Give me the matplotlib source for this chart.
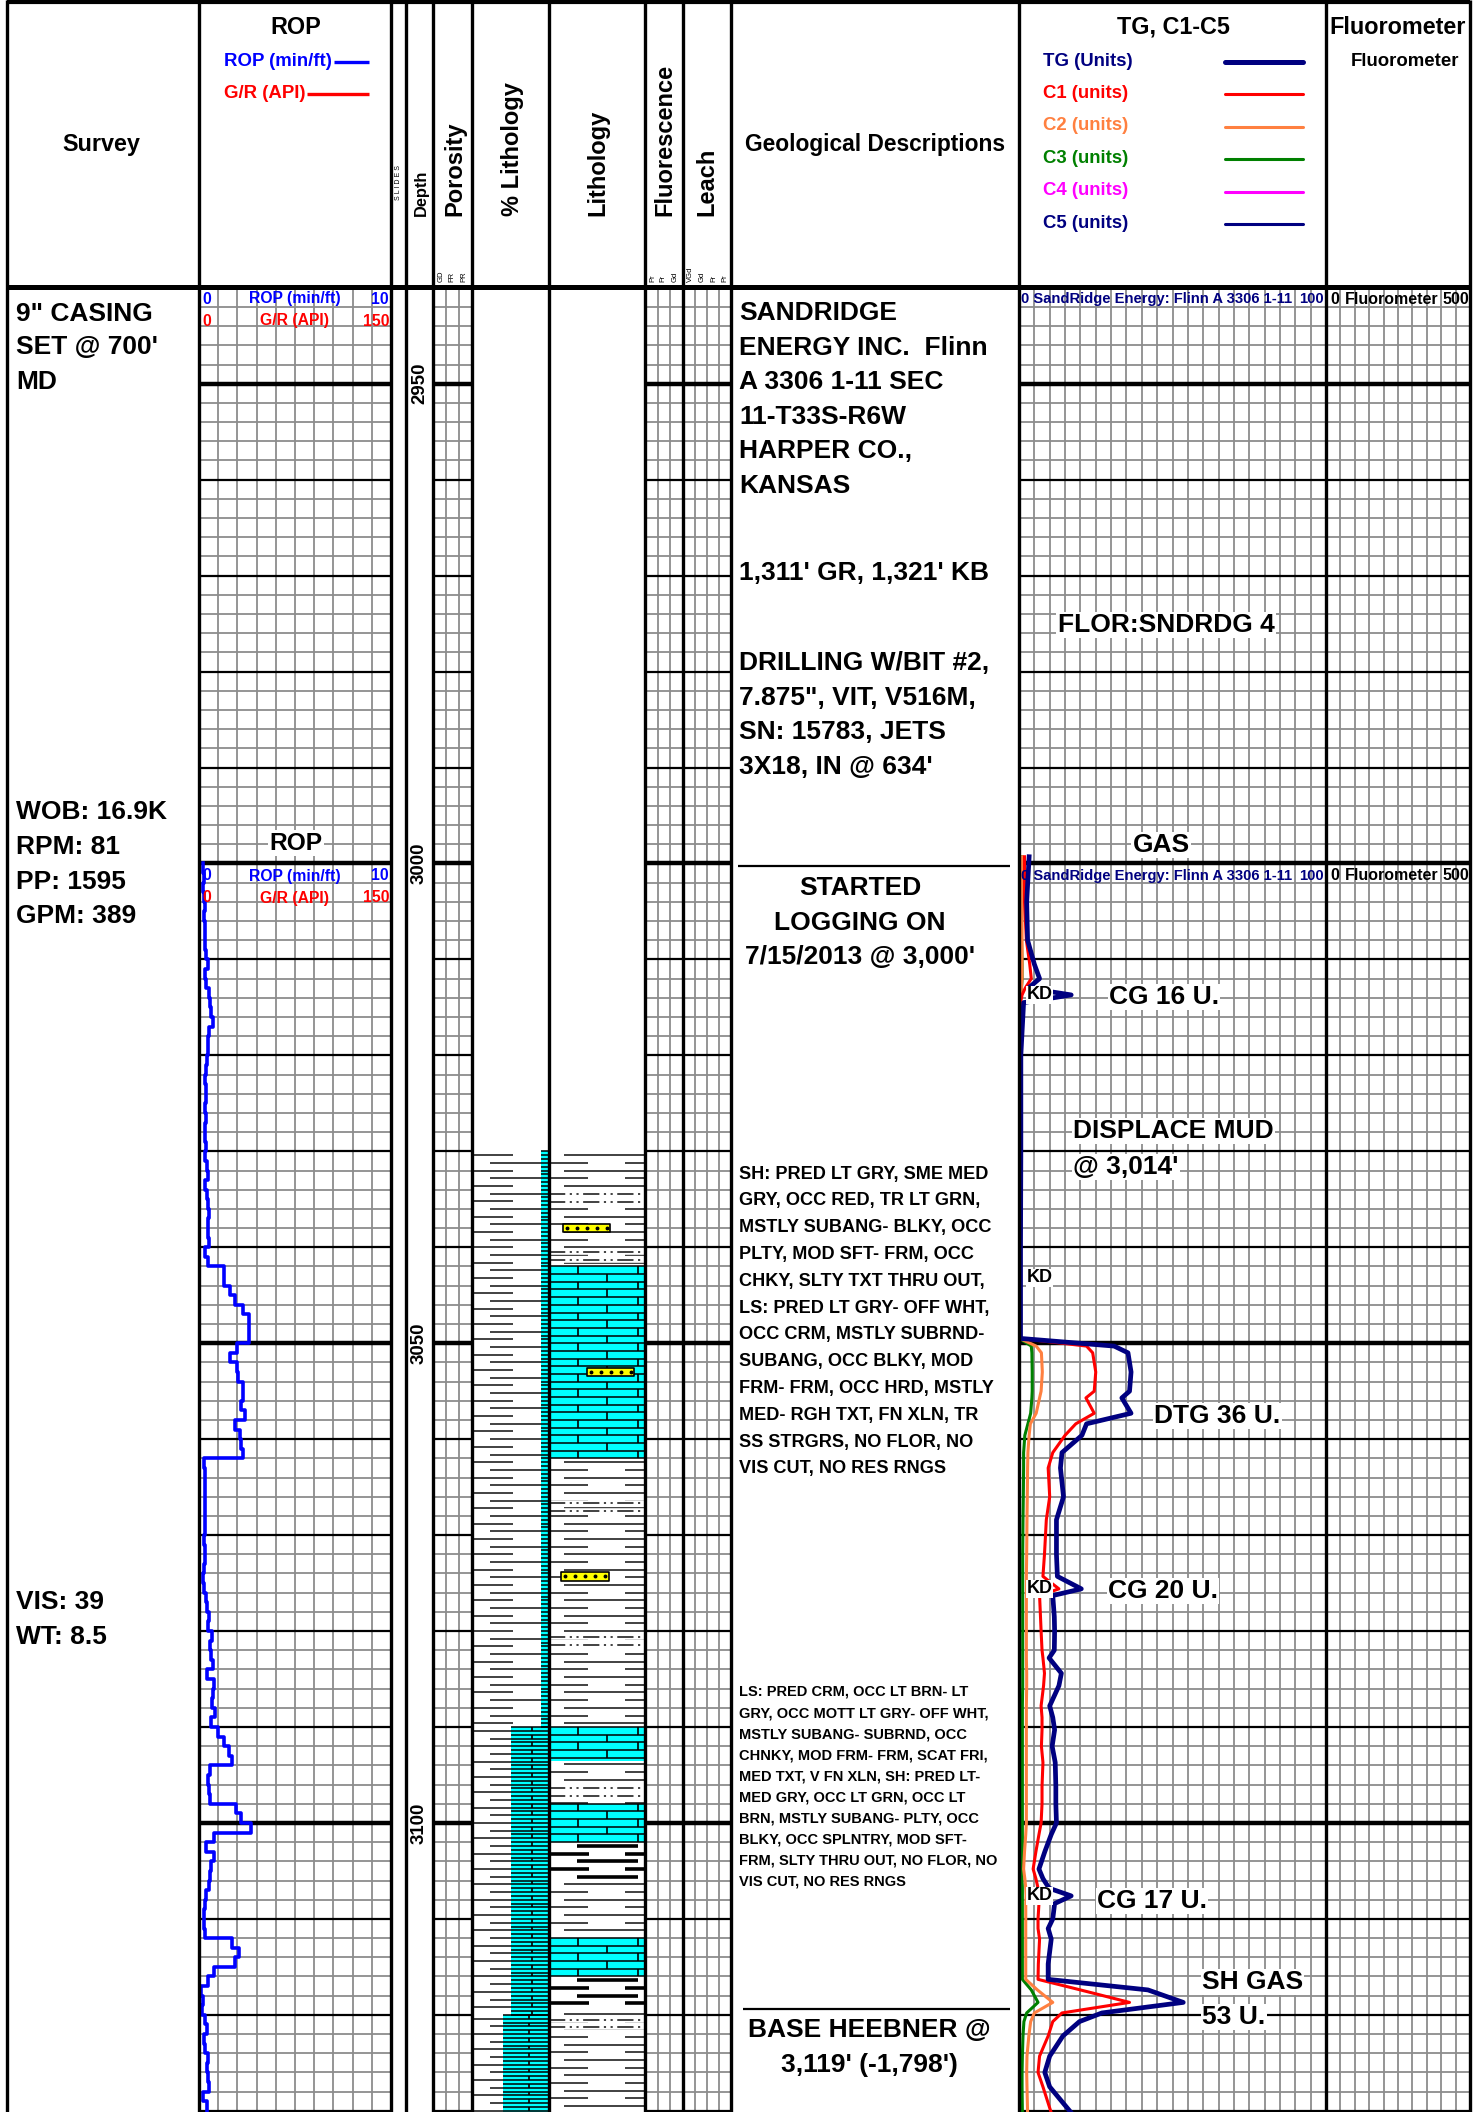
import numpy as np
import matplotlib.pyplot as plt
from matplotlib import font_manager as fm

plt.rcParams['font.family'] = ['Liberation Sans', 'DejaVu Sans']
REG = ['Liberation Sans', 'DejaVu Sans']
# the log uses Arial Narrow for captions; fall back to smaller Liberation Sans if no narrow face
if any(f.name == 'Liberation Sans Narrow' for f in fm.fontManager.ttflist):
    NARROW, NS = ['Liberation Sans Narrow', 'Liberation Sans', 'DejaVu Sans'], 1.0
else:
    NARROW, NS = ['Liberation Sans', 'DejaVu Sans'], 0.84

rop_start = 3000
rop_min_ft = [0.2, 0.25, 0.2, 0.25, 0.3, 0.25, 0.3, 0.3, 0.3, 0.35,
              0.45, 0.3, 0.35, 0.5, 0.55, 0.6, 0.75, 0.5, 0.45, 0.45,
              0.4, 0.35, 0.3, 0.35, 0.35, 0.3, 0.35, 0.3, 0.3, 0.35,
              0.3, 0.4, 0.45, 0.3, 0.4, 0.45, 0.5, 0.45, 0.45, 0.5,
              0.3, 0.45, 1.3, 1.3, 1.6, 1.9, 2.3, 2.6, 2.6, 2.6,
              2.0, 1.6, 2.0, 2.05, 2.3, 2.3, 2.2, 2.4, 1.9, 2.15,
              2.2, 2.3, 0.25, 0.3, 0.3, 0.3, 0.3, 0.3, 0.3, 0.3,
              0.25, 0.3, 0.3, 0.25, 0.2, 0.25, 0.35, 0.4, 0.5, 0.45,
              0.7, 0.55, 0.65, 0.75, 0.4, 0.8, 0.75, 0.7, 0.85, 0.65,
              1.0, 1.3, 1.55, 1.7, 0.55, 0.45, 0.5, 0.55, 1.95, 2.2,
              2.7, 0.8, 0.35, 0.8, 0.6, 0.55, 0.5, 0.35, 0.3, 0.25,
              0.25, 0.3, 1.7, 2.1, 1.9, 0.8, 0.45, 0.1, 0.2, 0.15,
              0.3, 0.4, 0.25, 0.3, 0.45, 0.4, 0.45, 0.5, 0.2, 0.4]

gas_depth = [2999.3, 3004, 3008, 3010.5, 3012, 3013, 3013.7, 3014.5, 3020, 3030,
             3040, 3049.5, 3050.3, 3051, 3053, 3055, 3055.7, 3057.3, 3058.4, 3059.6,
             3061.4, 3063, 3066, 3068.4, 3072, 3074.3, 3075.6, 3076.3, 3078.5, 3080,
             3082, 3082.8, 3084.4, 3085.7, 3087.8, 3089, 3090.3, 3092, 3093.7, 3096.2,
             3098, 3100, 3101.2, 3103, 3104.8, 3105.8, 3106.8, 3107.6, 3108.4, 3110,
             3111, 3112.1, 3113.4, 3114.7, 3116.3, 3117.4, 3118.7, 3119.8, 3120.7, 3122.2,
             3124.3, 3126, 3127.5, 3130.2]
tg_units = [3.3, 2.5, 2.8, 5, 6.7, 3, 17, 1.5, 0.6, 0.6,
            0.5, 0.5, 31, 35.5, 36.5, 36, 33.5, 36.5, 22, 20.5,
            14, 13.5, 14.5, 12.2, 12.2, 12.5, 20.3, 11, 11.5, 11.6,
            11.5, 9.8, 13.8, 13, 10, 11, 11.6, 10.8, 11.8, 12,
            12, 12.2, 10.5, 8.4, 6.5, 7.8, 9.8, 17, 11.6, 11,
            9.5, 10.5, 10, 9.5, 9.5, 42, 53.5, 27, 19.7, 14.3,
            10, 8.4, 10, 17]
c1_units = [1.8, 1.8, 2.4, 3.5, 4, 2, 1, 0.5, 0.3, 0.3,
            0.3, 0.3, 22, 24, 25, 24.5, 21.8, 24.5, 18.5, 15,
            11, 9.5, 10, 8.9, 8.3, 7.8, 13, 6.7, 7, 7.2,
            7.5, 7.8, 8.3, 8, 7.2, 7.5, 7.5, 7.3, 7.8, 7.5,
            7.5, 7.2, 6.5, 5.5, 4.6, 5.5, 6.2, 7.5, 6.5, 6.2,
            6.2, 6.7, 6.5, 6.3, 6.2, 20, 36, 14, 11, 9.5,
            6.7, 6.2, 7.8, 10.5]
c2_units = [1, 1, 1, 1, 1, 0.8, 0.5, 0.3, 0.2, 0.2,
            0.2, 0.2, 5.6, 7.3, 7.6, 7.2, 6.7, 5.6, 3.7, 3.3,
            2.9, 2.8, 2.7, 2.6, 2.5, 2.4, 2.4, 2.4, 2.4, 2.4,
            2.4, 2.4, 2.5, 2.5, 2.4, 2.4, 2.4, 2.4, 2.4, 2.4,
            2.4, 2.4, 2.2, 1.8, 1.5, 1.9, 2.2, 2.3, 2.2, 2.2,
            2.2, 2.2, 2.2, 2.2, 2.2, 6, 11, 5, 3.8, 3.2,
            2.6, 2.5, 2.6, 2.8]
c3_units = [0.8, 0.8, 0.8, 1, 1, 0.8, 0.3, 0.2, 0.1, 0.1,
            0.1, 0.1, 4, 4.2, 4.3, 4.3, 4.2, 3.8, 2.9, 1.9,
            1.5, 1.5, 1.4, 1.3, 1.2, 1.2, 1.2, 1.2, 1.2, 1.2,
            1.2, 1.2, 1.2, 1.2, 1.1, 1.1, 1.1, 1.1, 1.1, 1.1,
            1.1, 1.1, 1.1, 1.1, 1.0, 1.0, 1.1, 1.1, 1.1, 1.1,
            1.1, 1.1, 1.1, 1.1, 1.1, 4, 6.2, 2.5, 1.6, 1.3,
            1.1, 1.0, 1.0, 1.1]
kd_depth = [3013.7, 3043.2, 3075.6, 3107.6]

# % lithology: limestone share, rest shale
pct_top = [3030, 3090, 3120]
pct_ls = [10, 50, 60]

# interpreted lithology column
lith_top = [3030, 3042, 3062, 3090, 3093.5, 3098, 3102, 3106, 3112, 3116, 3119.5]
lith_kind = ['SH', 'LS', 'SH', 'LS', 'SH', 'LS', 'BSH', 'SH', 'LS', 'BSH', 'SH']
silt_depth = [3034.5, 3035.3, 3040.5, 3041.3, 3066.7, 3067.5, 3080.6, 3081.4,
              3096.4, 3097.2, 3120.5, 3121.3]
sand_depth = [3038.0, 3053.0, 3074.3]
sand_left = [15, 40, 13]
sand_right = [64, 89, 62]

depth_labels = [2950, 3000, 3050, 3100]

# ---------------- layout ----------------
W, H = 1473, 2112
HDR = 287
PXFT = 9.595
D0 = 2939.92
D1 = D0 + (H - HDR) / PXFT
edges = [7, 199, 391, 406, 433, 472, 549, 645, 683, 731, 1019, 1326, 1470]

fig = plt.figure(figsize=(W / 100, H / 100), dpi=100)


def track(i, xmax):
    x0, x1 = edges[i], edges[i + 1]
    ax = fig.add_axes([x0 / W, 0, (x1 - x0) / W, (H - HDR) / H])
    ax.set_xlim(0, xmax)
    ax.set_ylim(D1, D0)
    ax.axis('off')
    return ax


def grid(ax, ncols, xmax):
    ax.hlines(np.arange(2942, 3131, 2), 0, xmax, color='#8c8c8c', lw=1.3, zorder=1)
    ax.vlines(np.linspace(0, xmax, ncols + 1)[1:-1], D0, D1, color='#8c8c8c', lw=1.3, zorder=1)
    ten = np.arange(2950, 3131, 10)
    ax.hlines(ten[ten % 50 != 0], 0, xmax, color='black', lw=1.6, zorder=2)
    ax.hlines(ten[ten % 50 == 0], 0, xmax, color='black', lw=3.2, zorder=2)


# ROP
ax_rop = track(1, 10)
grid(ax_rop, 10, 10)
r = np.array(rop_min_ft)
d = rop_start + np.arange(len(r) + 1)
ax_rop.plot(np.repeat(r, 2), np.repeat(d, 2)[1:-1], color='#0000ff', lw=2.6, zorder=4)

# depth
ax_dep = track(3, 1)
for dl in depth_labels:
    ax_dep.text(0.5, dl, str(dl), rotation=90, ha='center', va='center', fontsize=16 * NS,
                fontweight='bold', family=NARROW)

ax_por = track(4, 3)
grid(ax_por, 3, 3)
ax_flu = track(7, 3)
grid(ax_flu, 3, 3)
ax_lea = track(8, 4)
grid(ax_lea, 4, 4)


def shale(ax, top, bot, rows_a, rows_b, lw=1.3, color='#333333', step=0.8):
    k = 0
    dd = top + step / 2
    while dd < bot:
        for a, b in (rows_a if k % 2 == 0 else rows_b):
            ax.plot([a, b], [dd, dd], color=color, lw=lw, solid_capstyle='butt', zorder=3)
        dd += step
        k += 1


def limestone(ax, top, bot, x0, x1, step, ticks_a, ticks_b):
    ax.fill_betweenx([top, bot], x0, x1, color='#00ffff', lw=0, zorder=2)
    ds = np.arange(top, bot + 1e-6, step)
    ax.hlines(ds, x0, x1, color='black', lw=1.1, zorder=3)
    for k, dd in enumerate(ds[:-1]):
        for t in (ticks_a if k % 2 == 0 else ticks_b):
            ax.vlines(x0 + t * (x1 - x0), dd, dd + step, color='black', lw=1.2, zorder=3)


# % lithology
ax_pct = track(5, 100)
pct_bot = pct_top[1:] + [D1]
for t, b, ls in zip(pct_top, pct_bot, pct_ls):
    xr = 100 - ls
    limestone(ax_pct, t, b, xr, 100, 0.4, [0.56] if ls > 20 else [], [])
    shale(ax_pct, t, b, [(3, min(53, xr))], [(23, xr)])

# lithology
ax_lit = track(6, 100)
lith_bot = lith_top[1:] + [D1]
for t, b, kind in zip(lith_top, lith_bot, lith_kind):
    if kind == 'LS':
        limestone(ax_lit, t, b, 0, 100, 0.8, [0.3, 0.93], [0.6])
    elif kind == 'BSH':
        shale(ax_lit, t, b, [(29, 93)], [(0, 42), (79, 100)], lw=2.6, color='black')
    else:
        shale(ax_lit, t, b, [(16, 100)], [(0, 41), (79, 100)])
for sd in silt_depth:
    ax_lit.plot([0, 100], [sd, sd], color='white', lw=4, zorder=3.5)
    ax_lit.plot([0, 100], [sd, sd], color='#333333', lw=1.3, dashes=[9, 2.5, 1.2, 2.5, 1.2, 2.5],
                zorder=3.6)
for sd, a, b in zip(sand_depth, sand_left, sand_right):
    ax_lit.fill_betweenx([sd - 0.45, sd + 0.45], a, b, facecolor='#ffff00', edgecolor='black',
                         lw=1.2, zorder=4)
    ax_lit.plot(np.linspace(a + 4, b - 4, 5), [sd] * 5, 'o', color='black', ms=1.8, zorder=5)

# geology column
ax_geo = track(9, 100)
ax_geo.hlines([3000.3, 3119.4], [2.4, 4], 97, color='black', lw=1.6)

# gas
ax_gas = track(10, 100)
grid(ax_gas, 20, 100)
ax_gas.plot(c3_units, gas_depth, color='#008000', lw=2.2, zorder=4)
ax_gas.plot(c2_units, gas_depth, color='#ff8040', lw=2.2, zorder=4)
ax_gas.plot(c1_units, gas_depth, color='#ff0000', lw=2.2, zorder=4)
ax_gas.plot(tg_units, gas_depth, color='#000080', lw=3.4, zorder=5)
for kd in kd_depth:
    ax_gas.text(2.4, kd, 'KD', fontsize=13, fontweight='bold', va='center', zorder=6,
                bbox=dict(facecolor='white', edgecolor='none', pad=0.5))

ax_fl = track(11, 500)
grid(ax_fl, 10, 500)

# ---------------- overlay: borders and text ----------------
ov = fig.add_axes([0, 0, 1, 1], zorder=5)
ov.set_xlim(0, W)
ov.set_ylim(H, 0)
ov.axis('off')
ov.vlines(edges, 0, H, color='black', lw=2.4)
ov.hlines(2, edges[0], edges[-1], color='black', lw=3)
ov.hlines(HDR, edges[0], edges[-1], color='black', lw=3.6)


def txt(x, y, s, size, ha='left', va='center', narrow=False, color='black', box=False, rot=0,
        weight='bold'):
    kw = {}
    if box:
        kw['bbox'] = dict(facecolor='white', edgecolor='none', pad=1)
    fam = REG
    if narrow:
        fam = NARROW
        size = size * NS
    ov.text(x, y, s, fontsize=size, family=fam, color=color, ha=ha, va=va, rotation=rot,
            fontweight=weight, **kw)


# header
txt(101, 144, 'Survey', 20, ha='center', narrow=True)
txt(296, 27, 'ROP', 20, ha='center', narrow=True)
txt(224, 61, 'ROP (min/ft)', 16, narrow=True, color='#0000ff')
ov.hlines(62, 334, 369, color='#0000ff', lw=2.4)
txt(224, 93, 'G/R (API)', 16, narrow=True, color='#ff0000')
ov.hlines(94, 307, 369, color='#ff0000', lw=2.4)
txt(398, 183, 'S L I D E S', 5, ha='center', rot=90, weight='normal')
txt(421, 216, 'Depth', 14, ha='center', va='bottom', rot=90, narrow=True)
for x, s in [(455, 'Porosity'), (512, '% Lithology'), (598, 'Lithology'),
             (665, 'Fluorescence'), (707, 'Leach')]:
    txt(x, 216, s, 17, ha='center', va='bottom', rot=90)
for x, s in [(441, 'GD'), (452, 'FR'), (464, 'PR'), (653, 'Pr'), (663, 'Fr'), (675, 'Gd'),
             (690, 'VGd'), (702, 'Gd'), (714, 'Fr'), (725, 'Pr')]:
    txt(x, 282, s, 5.5, ha='center', va='bottom', rot=90, weight='normal')
txt(875, 144, 'Geological Descriptions', 19.5, ha='center', narrow=True)
txt(1173, 27, 'TG, C1-C5', 20, ha='center', narrow=True)
legend = [('TG (Units)', '#000080', 3.6), ('C1 (units)', '#ff0000', 2.2),
          ('C2 (units)', '#ff8040', 2.2), ('C3 (units)', '#008000', 2.2),
          ('C4 (units)', '#ff00ff', 2.2), ('C5 (units)', '#000080', 2.2)]
for k, (s, c, lw) in enumerate(legend):
    y = 61 + k * 32.4
    txt(1043, y, s, 16, narrow=True, color=c)
    ov.plot([1225, 1303], [y + 1, y + 1], color=c, lw=lw, solid_capstyle='round')
txt(1398, 27, 'Fluorometer', 20, ha='center', narrow=True)
txt(1405, 61, 'Fluorometer', 16, ha='center', narrow=True)

# scale captions at the top of each section
for y0 in (299, 876):
    txt(202, y0, '0', 13.5, narrow=True, color='#0000ff')
    txt(295, y0, 'ROP (min/ft)', 13.5, ha='center', narrow=True, color='#0000ff')
    txt(389, y0, '10', 13.5, ha='right', narrow=True, color='#0000ff')
    txt(202, y0 + 22, '0', 13.5, narrow=True, color='#ff0000')
    txt(295, y0 + 22, 'G/R (API)', 13.5, ha='center', narrow=True, color='#ff0000')
    txt(389, y0 + 22, '150', 13.5, ha='right', narrow=True, color='#ff0000')
    txt(1021, y0, '0 SandRidge Energy: Flinn A 3306 1-11', 10.6, color='#000080')
    txt(1324, y0, '100', 10.6, ha='right', color='#000080')
    txt(1330, y0, '0', 11.5)
    txt(1345, y0, 'Fluorometer', 11.5)
    txt(1469, y0, '500', 11.5, ha='right')

# survey notes
for y, s in [(314, '9" CASING'), (347, "SET @ 700'"), (382, 'MD'),
             (812, 'WOB: 16.9K'), (847, 'RPM: 81'), (882, 'PP: 1595'), (916, 'GPM: 389'),
             (1602, 'VIS: 39'), (1637, 'WT: 8.5')]:
    txt(16, y, s, 19)

# geological descriptions
head = ['SANDRIDGE', 'ENERGY INC.  Flinn', 'A 3306 1-11 SEC', '11-T33S-R6W', 'HARPER CO.,', 'KANSAS']
for k, s in enumerate(head):
    txt(739, 313 + k * 34.6, s, 19)
txt(739, 573, "1,311' GR, 1,321' KB", 19)
bit = ['DRILLING W/BIT #2,', '7.875", VIT, V516M,', 'SN: 15783, JETS', "3X18, IN @ 634'"]
for k, s in enumerate(bit):
    txt(739, 663 + k * 34.6, s, 19)
for k, s in enumerate(['STARTED', 'LOGGING ON', "7/15/2013 @ 3,000'"]):
    txt(860, 888 + k * 34.6, s, 19, ha='center')
sh_desc = ['SH: PRED LT GRY, SME MED', 'GRY, OCC RED, TR LT GRN,', 'MSTLY SUBANG- BLKY, OCC',
           'PLTY, MOD SFT- FRM, OCC', 'CHKY, SLTY TXT THRU OUT,', 'LS: PRED LT GRY- OFF WHT,',
           'OCC CRM, MSTLY SUBRND-', 'SUBANG, OCC BLKY, MOD', 'FRM- FRM, OCC HRD, MSTLY',
           'MED- RGH TXT, FN XLN, TR', 'SS STRGRS, NO FLOR, NO', 'VIS CUT, NO RES RNGS']
for k, s in enumerate(sh_desc):
    txt(739, 1174 + k * 26.8, s, 15.5, narrow=True)
ls_desc = ['LS: PRED CRM, OCC LT BRN- LT', 'GRY, OCC MOTT LT GRY- OFF WHT,',
           'MSTLY SUBANG- SUBRND, OCC', 'CHNKY, MOD FRM- FRM, SCAT FRI,',
           'MED TXT, V FN XLN, SH: PRED LT-', 'MED GRY, OCC LT GRN, OCC LT',
           'BRN, MSTLY SUBANG- PLTY, OCC', 'BLKY, OCC SPLNTRY, MOD SFT-',
           'FRM, SLTY THRU OUT, NO FLOR, NO', 'VIS CUT, NO RES RNGS']
for k, s in enumerate(ls_desc):
    txt(739, 1692 + k * 21.1, s, 12.5, narrow=True)
txt(869, 2030, 'BASE HEEBNER @', 19, ha='center')
txt(869, 2065, "3,119' (-1,798')", 19, ha='center')

# track annotations
txt(296, 843, 'ROP', 21, ha='center', narrow=True, box=True)
txt(1166, 625, 'FLOR:SNDRDG 4', 19, ha='center', box=True)
txt(1161, 845, 'GAS', 19, ha='center', box=True)
txt(1109, 997, 'CG 16 U.', 19, box=True)
txt(1073, 1131, 'DISPLACE MUD', 19, box=True)
txt(1073, 1167, "@ 3,014'", 19, box=True)
txt(1154, 1416, 'DTG 36 U.', 19, box=True)
txt(1108, 1591, 'CG 20 U.', 19, box=True)
txt(1097, 1901, 'CG 17 U.', 19, box=True)
txt(1202, 1982, 'SH GAS', 19, box=True)
txt(1202, 2017, '53 U.', 19, box=True)

fig.savefig('out.png', dpi=100)
